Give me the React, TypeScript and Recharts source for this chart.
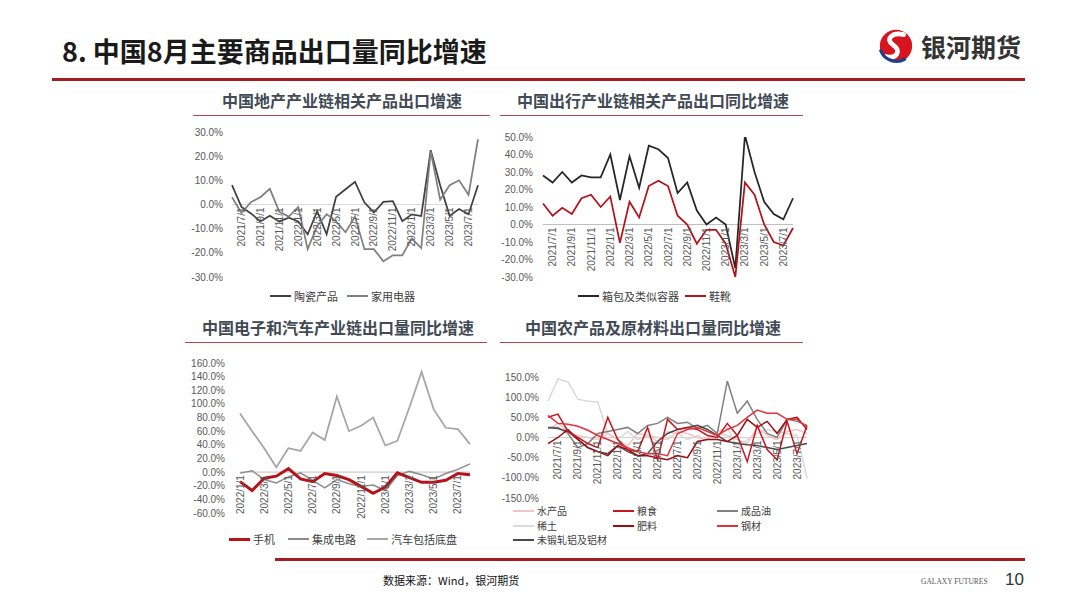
import React from "react";
import { LineChart, Line, XAxis, YAxis, ReferenceLine, Legend } from "recharts";

const SANS = "'Liberation Sans', 'Noto Sans CJK SC', sans-serif";
const CJK = "'Noto Sans CJK SC', 'Liberation Sans', sans-serif";

// monthly categories
const months2021 = [
  "2021/6/1", "2021/7/1", "2021/8/1", "2021/9/1", "2021/10/1", "2021/11/1", "2021/12/1",
  "2022/1/1", "2022/2/1", "2022/3/1", "2022/4/1", "2022/5/1", "2022/6/1", "2022/7/1",
  "2022/8/1", "2022/9/1", "2022/10/1", "2022/11/1", "2022/12/1", "2023/1/1", "2023/2/1",
  "2023/3/1", "2023/4/1", "2023/5/1", "2023/6/1", "2023/7/1", "2023/8/1",
];
const labels2021 = [
  "2021/7/1", "2021/9/1", "2021/11/1", "2022/1/1", "2022/3/1", "2022/5/1", "2022/7/1",
  "2022/9/1", "2022/11/1", "2023/1/1", "2023/3/1", "2023/5/1", "2023/7/1",
];
const months2022 = [
  "2022/1/1", "2022/2/1", "2022/3/1", "2022/4/1", "2022/5/1", "2022/6/1", "2022/7/1",
  "2022/8/1", "2022/9/1", "2022/10/1", "2022/11/1", "2022/12/1", "2023/1/1", "2023/2/1",
  "2023/3/1", "2023/4/1", "2023/5/1", "2023/6/1", "2023/7/1", "2023/8/1",
];
const labels2022 = [
  "2022/1/1", "2022/3/1", "2022/5/1", "2022/7/1", "2022/9/1", "2022/11/1", "2023/1/1",
  "2023/3/1", "2023/5/1", "2023/7/1",
];

// 地产链 (%)
const ceramics = [8, -1, -3.7, -7, -4.7, -7, -5.5, -7, -12.3, -2.8, -12.3, 3.2, 6.3, 9.4, 0.8, -3.3, 1.1, 1.4, -6.9, -4.1, -4.8, 22.5, 8, -4.7, -1.9, -4, 8];
const appliances = [3, -3.5, 1, 3, 6.5, -3, -5, -1, -18.5, -9, -4, -7, -11.5, -5, -18.5, -18.5, -23.5, -21, -21, -14, -18, 22, 2, 8, 10, 4, 27];

// 出行链 (%)
const luggage = [28, 24, 30, 24, 28, 27, 27, 40, 14, 39, 21, 45, 43, 38, 18, 24, 8, 0, 4, 0, -25, 51, 30, 13, 6, 3, 15];
const footwear = [12, 5, 9.5, 6, 15, 17, 10, 16, -10.5, 13, 4, 22, 25, 22, 5, 0, -11, -3, -3, -11, -30, 24, 17, 0, -10, -12, -2];

// 电子和汽车链 (%)
const phones = [-14, -27, -9, -6, 5, -10, -14, -2, -5, -11, -21, -31, -22, -1, -8, -15, -15, -12, -2, -4];
const chips = [-1.5, 2, -11, -16, -7, -1, -12, -23, -11, -17, -21, -19, -27, -5, 1, -4, -10, -2, 4, 12];
const autos = [86, 60, 35, 7, 35, 31, 58, 47, 111, 60, 68, 80, 39, 46, 95, 147, 92, 65, 63, 41];

// 农产品及原材料 (%)
const aquatic = [20, 35, 15, 5, 0, -5, 10, -5, -20, 10, 5, 0, -5, 15, 10, 0, -5, 10, 5, -5, -15, 25, 5, -5, 15, 20, 10];
const rareEarth = [90, 145, 138, 95, 90, 88, 10, -5, 15, -5, 5, -10, 15, 10, -5, 5, -5, 15, 25, -25, -5, 10, 20, 15, 10, 5, -100];
const grain = [50, 58, 15, 0, -15, -25, 50, -5, -30, -35, 25, -55, 45, 20, 25, 20, 5, 0, 35, 5, -60, 30, -30, -55, 40, -40, 30];
const fertilizer = [-15, 0, 20, -5, -25, -35, -45, -20, -30, -45, -45, -50, -55, -45, -50, -10, -5, -5, -10, 5, 45, 25, 40, 10, 45, 50, 20];
const steel = [55, 35, 33, 28, 18, 5, -5, -15, -25, -35, -40, -40, -45, 10, 20, 25, 15, 5, 20, 30, 50, 68, 60, 60, 45, 45, 25];
const refinedOil = [25, 25, 10, -25, -15, 10, 15, 20, 25, 10, 30, 35, 50, 35, 38, 22, 30, 10, 140, 60, 90, 45, 10, 0, 45, 40, 30];
const aluminium = [25, 22, 15, -5, -25, -35, -40, -20, -35, -45, -40, -10, 10, 20, 25, 30, 20, 5, -10, -15, -18, -20, -25, -30, -25, -20, -15];

const ticksLand = [-30, -20, -10, 0, 10, 20, 30];
const ticksTravel = [-30, -20, -10, 0, 10, 20, 30, 40, 50];
const ticksElec = [-60, -40, -20, 0, 20, 40, 60, 80, 100, 120, 140, 160];
const ticksFarm = [-150, -100, -50, 0, 50, 100, 150];

interface Series {
  key: string;
  name: string;
  values: number[];
  color: string;
  width: number;
  lx: number; // legend item x inside the panel
  ly: number; // legend row y
}

interface PanelProps {
  left: number;
  top: number;
  width: number;
  height: number;
  margin: { top: number; right: number; bottom: number; left: number };
  yWidth: number;
  yGap: number;
  xAxisH: number;
  legendH: number;
  legendRow: number;
  legendFont: number;
  domain: [number, number];
  yTicks: number[];
  categories: string[];
  labels: string[];
  axisColor: string;
  series: Series[];
}

function buildRows(categories: string[], series: Series[]) {
  return categories.map((month, i) => {
    const row: Record<string, string | number> = { month };
    series.forEach((s) => {
      row[s.key] = s.values[i];
    });
    return row;
  });
}

function ChartPanel(p: PanelProps) {
  const rows = buildRows(p.categories, p.series);
  const [lo, hi] = p.domain;
  const plotH = p.height - p.margin.top - p.margin.bottom - p.legendH - p.xAxisH;
  // category labels hang from the zero line, not from the bottom of the plot
  const zeroY = p.margin.top + (plotH * hi) / (hi - lo);

  const renderTick = (t: any) => {
    if (!p.labels.includes(t.payload.value)) return <g />;
    return (
      <text
        transform={`translate(${t.x},${zeroY + 3}) rotate(-90)`}
        textAnchor="end"
        dominantBaseline="central"
        fontSize={10}
        fill="#595959"
        fontFamily={SANS}
      >
        {t.payload.value}
      </text>
    );
  };

  const renderLegend = () => (
    <div style={{ position: "relative", width: p.width, height: p.legendH }}>
      {p.series.map((s) => (
        <div
          key={s.key}
          style={{
            position: "absolute",
            left: s.lx,
            top: s.ly,
            height: p.legendRow,
            display: "flex",
            alignItems: "center",
            whiteSpace: "nowrap",
          }}
        >
          <span
            style={{
              display: "block",
              width: 21,
              height: s.width > 2 ? 3 : 2,
              background: s.color,
              marginRight: 3,
            }}
          />
          <span
            style={{
              display: "block",
              fontSize: p.legendFont,
              lineHeight: `${p.legendRow}px`,
              color: "#404040",
              fontFamily: CJK,
            }}
          >
            {s.name}
          </span>
        </div>
      ))}
    </div>
  );

  return (
    <div style={{ position: "absolute", left: p.left, top: p.top }}>
      <LineChart width={p.width} height={p.height} data={rows} margin={p.margin}>
        <XAxis
          dataKey="month"
          interval={0}
          axisLine={false}
          tickLine={false}
          height={p.xAxisH}
          tick={renderTick}
        />
        <YAxis
          type="number"
          domain={p.domain}
          ticks={p.yTicks}
          interval={0}
          allowDataOverflow
          width={p.yWidth}
          axisLine={false}
          tickLine={false}
          tickSize={0}
          tickMargin={p.yGap}
          tickFormatter={(v: number) => `${v.toFixed(1)}%`}
          tick={{ fontSize: 10, fill: "#595959", fontFamily: SANS }}
        />
        <ReferenceLine y={0} stroke={p.axisColor} strokeWidth={1} />
        {p.series.map((s) => (
          <Line
            key={s.key}
            type="linear"
            dataKey={s.key}
            name={s.name}
            stroke={s.color}
            strokeWidth={s.width}
            dot={false}
            activeDot={false}
            isAnimationActive={false}
          />
        ))}
        <Legend
          verticalAlign="bottom"
          height={p.legendH}
          wrapperStyle={{ left: 0, width: p.width, bottom: p.margin.bottom }}
          content={renderLegend}
        />
      </LineChart>
    </div>
  );
}

function PanelTitle({ text, cx, cy, x1, x2, lineY }: { text: string; cx: number; cy: number; x1: number; x2: number; lineY: number }) {
  return (
    <>
      <div
        style={{
          position: "absolute",
          left: cx - 200,
          top: cy - 11,
          width: 400,
          textAlign: "center",
          fontFamily: CJK,
          fontWeight: 700,
          fontSize: 16,
          lineHeight: "22px",
          color: "#414a55",
        }}
      >
        {text}
      </div>
      <div style={{ position: "absolute", left: x1, top: lineY, width: x2 - x1, height: 1, background: "#b8454a" }} />
    </>
  );
}

function Logo() {
  return (
    <svg style={{ position: "absolute", left: 877, top: 27 }} width={38} height={38} viewBox="0 0 40 40">
      <circle cx={20} cy={20} r={17} fill="#d7141f" />
      <path d="M28 8 C16 5 8 13 17 19 C26 25 21 34 9 31" stroke="#fff" strokeWidth={5} fill="none" strokeLinecap="round" />
      <path d="M4 25 C8 35 20 39 29 34" stroke="#1f3e8c" strokeWidth={3.5} fill="none" strokeLinecap="round" />
    </svg>
  );
}

export default function App() {
  const land: Series[] = [
    { key: "ceramics", name: "陶瓷产品", values: ceramics, color: "#404040", width: 1.75, lx: 80, ly: 0 },
    { key: "appliances", name: "家用电器", values: appliances, color: "#808080", width: 1.75, lx: 157, ly: 0 },
  ];
  const travel: Series[] = [
    { key: "luggage", name: "箱包及类似容器", values: luggage, color: "#262626", width: 1.75, lx: 88, ly: 0 },
    { key: "footwear", name: "鞋靴", values: footwear, color: "#b5121b", width: 1.75, lx: 195, ly: 0 },
  ];
  const elec: Series[] = [
    { key: "autos", name: "汽车包括底盘", values: autos, color: "#a6a6a6", width: 1.75, lx: 187, ly: 0 },
    { key: "chips", name: "集成电路", values: chips, color: "#8c8c8c", width: 1.5, lx: 108, ly: 0 },
    { key: "phones", name: "手机", values: phones, color: "#b5121b", width: 3, lx: 49, ly: 0 },
  ];
  const farm: Series[] = [
    { key: "rareEarth", name: "稀土", values: rareEarth, color: "#d9d9d9", width: 1.5, lx: 23, ly: 14.5 },
    { key: "aquatic", name: "水产品", values: aquatic, color: "#f2c6c6", width: 1.5, lx: 23, ly: 0 },
    { key: "refinedOil", name: "成品油", values: refinedOil, color: "#808080", width: 1.5, lx: 227, ly: 0 },
    { key: "aluminium", name: "未锻轧铝及铝材", values: aluminium, color: "#4a4a4a", width: 1.5, lx: 23, ly: 29 },
    { key: "fertilizer", name: "肥料", values: fertilizer, color: "#9e0b12", width: 1.5, lx: 123, ly: 14.5 },
    { key: "grain", name: "粮食", values: grain, color: "#c8161e", width: 1.5, lx: 123, ly: 0 },
    { key: "steel", name: "钢材", values: steel, color: "#e2333a", width: 1.5, lx: 227, ly: 14.5 },
  ];

  return (
    <div
      style={{
        position: "absolute",
        left: 0,
        top: 0,
        width: 1080,
        height: 608,
        background: "#ffffff",
        overflow: "hidden",
        fontFamily: CJK,
      }}
    >
      <div
        style={{
          position: "absolute",
          left: 62,
          top: 35,
          fontSize: 27,
          lineHeight: "32px",
          fontWeight: 700,
          color: "#1a1a1a",
          fontFamily: CJK,
          whiteSpace: "nowrap",
        }}
      >
        8. 中国8月主要商品出口量同比增速
      </div>
      <Logo />
      <div
        style={{
          position: "absolute",
          left: 921,
          top: 31,
          fontSize: 25,
          lineHeight: "30px",
          fontWeight: 700,
          color: "#333333",
          whiteSpace: "nowrap",
        }}
      >
        银河期货
      </div>
      <div style={{ position: "absolute", left: 52, top: 78, width: 973, height: 3, background: "#a51c21" }} />

      <PanelTitle text="中国地产产业链相关产品出口增速" cx={342} cy={100} x1={193} x2={490} lineY={115} />
      <PanelTitle text="中国出行产业链相关产品出口同比增速" cx={653} cy={100} x1={500} x2={803} lineY={115} />
      <PanelTitle text="中国电子和汽车产业链出口量同比增速" cx={338} cy={327} x1={185} x2={487} lineY={342} />
      <PanelTitle text="中国农产品及原材料出口量同比增速" cx={653} cy={327} x1={500} x2={803} lineY={342} />

      <ChartPanel
        left={190}
        top={120}
        width={300}
        height={188}
        margin={{ top: 12, right: 12, bottom: 4, left: 0 }}
        yWidth={42}
        yGap={9}
        xAxisH={11}
        legendH={16}
        legendRow={16}
        legendFont={11}
        domain={[-30, 30]}
        yTicks={ticksLand}
        categories={months2021}
        labels={labels2021}
        axisColor="#d9d9d9"
        series={land}
      />
      <ChartPanel
        left={490}
        top={120}
        width={320}
        height={188}
        margin={{ top: 17, right: 17, bottom: 4, left: 0 }}
        yWidth={53}
        yGap={10}
        xAxisH={11}
        legendH={16}
        legendRow={16}
        legendFont={11}
        domain={[-30, 50]}
        yTicks={ticksTravel}
        categories={months2021}
        labels={labels2021}
        axisColor="#bfbfbf"
        series={travel}
      />
      <ChartPanel
        left={180}
        top={350}
        width={310}
        height={201}
        margin={{ top: 13, right: 20, bottom: 4, left: 0 }}
        yWidth={60}
        yGap={15}
        xAxisH={18}
        legendH={16}
        legendRow={16}
        legendFont={11}
        domain={[-60, 160]}
        yTicks={ticksElec}
        categories={months2022}
        labels={labels2022}
        axisColor="#bfbfbf"
        series={elec}
      />
      <ChartPanel
        left={490}
        top={350}
        width={325}
        height={202}
        margin={{ top: 27, right: 8, bottom: 4, left: 0 }}
        yWidth={58}
        yGap={9}
        xAxisH={6}
        legendH={44}
        legendRow={14.5}
        legendFont={10}
        domain={[-150, 150]}
        yTicks={ticksFarm}
        categories={months2021}
        labels={labels2021}
        axisColor="#d0d0d0"
        series={farm}
      />

      <div style={{ position: "absolute", left: 275, top: 558, width: 750, height: 3, background: "#a51c21" }} />
      <div
        style={{
          position: "absolute",
          left: 383,
          top: 573,
          fontSize: 11,
          lineHeight: "14px",
          color: "#111111",
          whiteSpace: "nowrap",
        }}
      >
        数据来源：Wind，银河期货
      </div>
      <div
        style={{
          position: "absolute",
          left: 921,
          top: 577,
          fontSize: 7.5,
          lineHeight: "10px",
          color: "#555555",
          fontFamily: "'Liberation Serif', serif",
          whiteSpace: "nowrap",
        }}
      >
        GALAXY FUTURES
      </div>
      <div
        style={{
          position: "absolute",
          left: 1005,
          top: 570,
          fontSize: 17,
          lineHeight: "20px",
          color: "#333333",
          fontFamily: SANS,
        }}
      >
        10
      </div>
    </div>
  );
}
